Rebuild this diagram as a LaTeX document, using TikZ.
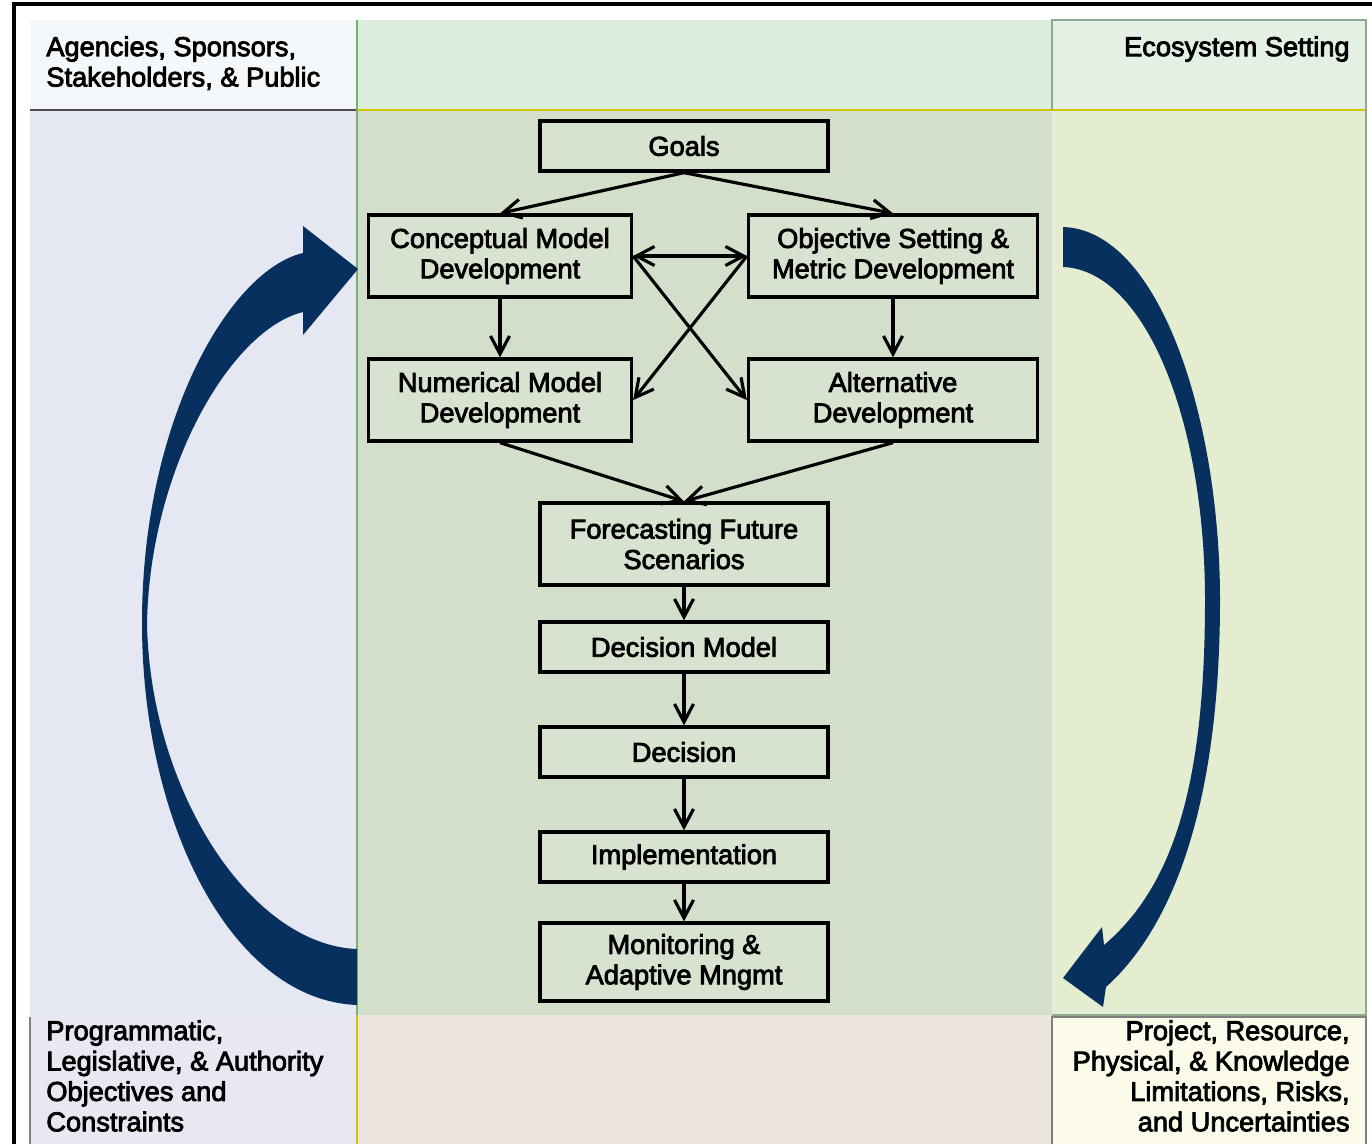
\documentclass[tikz,border=0pt]{standalone}
\usepackage{fontspec}
\setmainfont{Liberation Sans}
\newfontfamily\diagfont{Liberation Sans}[FakeBold=3]
\usetikzlibrary{positioning,arrows.meta}
\definecolor{cellwhite}{HTML}{F4F8FA}
\definecolor{topgreen}{HTML}{DDEDDB}
\definecolor{ecotop}{HTML}{E4F0E4}
\definecolor{leftlav}{HTML}{E5E7F3}
\definecolor{midgreen}{HTML}{D3DFCA}
\definecolor{rightyg}{HTML}{E5EDD0}
\definecolor{botlav}{HTML}{E8E8F3}
\definecolor{botbeige}{HTML}{EEE6DE}
\definecolor{botcream}{HTML}{FCFAE8}
\definecolor{boxfill}{HTML}{D8E2D0}
\definecolor{loopnavy}{HTML}{08305E}
\definecolor{ecoline}{HTML}{8FA88F}

\begin{document}
\begin{tikzpicture}[x=0.02cm, y=-0.02cm,
   stepbox/.style={draw, line width=1.9pt, fill=boxfill, inner sep=0pt,
                   minimum width=5.76cm, minimum height=1cm, align=center,
                   font=\fontsize{15.5}{17.3}\diagfont},
   sidebox/.style={stepbox, minimum width=5.26cm, minimum height=1.64cm},
   tallbox/.style={stepbox, minimum height=1.64cm},
   cornertext/.style={inner sep=0pt, font=\fontsize{15.5}{17.3}\diagfont},
   flow/.style={line width=1.8pt, -{Straight Barb[length=3.6mm,width=3.8mm]}},
   >={Straight Barb[length=3.6mm,width=3.8mm]}]
  \useasboundingbox (0,0) rectangle (1372,1144);
  \fill[white] (0,0) rectangle (1372,1144);
  % background cells
  \fill[cellwhite] (30,20) rectangle (357,110);
  \fill[topgreen] (357,20) rectangle (1052,110);
  \fill[ecotop] (1052,20) rectangle (1366,110);
  \fill[leftlav] (30,110) rectangle (357,1015);
  \fill[midgreen] (357,110) rectangle (1052,1015);
  \fill[rightyg] (1052,110) rectangle (1366,1015);
  \fill[botlav] (30,1015) rectangle (357,1144);
  \fill[botbeige] (357,1015) rectangle (1052,1144);
  \fill[botcream] (1052,1017) rectangle (1366,1144);
  \draw[gray!60!black, line width=0.8pt] (30,110) -- (357,110);
  \draw[yellow!60!olive, line width=0.8pt] (357,110) -- (1366,110);
  \draw[green!45!black!55, line width=1pt] (357,20) -- (357,1015);
  \draw[ecoline, line width=0.8pt] (1052,110) -- (1052,20) -- (1366,20)
    -- (1366,1015) -- (1052,1015);
  \draw[gray, line width=0.8pt] (1052,1144) -- (1052,1017) -- (1366,1017)
    -- (1366,1144);
  \draw[gray, line width=0.8pt] (30,1017) -- (30,1144);
  \draw[yellow!60!olive, line width=0.6pt] (357,1015) -- (357,1144);
  % outer frame
  \draw[line width=1.8pt] (14,1144) -- (14,4) -- (1372,4);

  % big loop arrows
  \fill[loopnavy] (357,1005) .. controls (230,1000) and (142,820) .. (142,623)
    .. controls (142,420) and (230,270) .. (303,253)
    -- (303,226) -- (358,269) -- (303,335) -- (303,312)
    .. controls (230,330) and (150,470) .. (147,623)
    .. controls (150,790) and (250,945) .. (357,949) -- cycle;
  \fill[loopnavy] (1063,227) .. controls (1160,230) and (1220,420) .. (1220,600)
    .. controls (1220,800) and (1175,925) .. (1106,987)
    -- (1103,1007) -- (1063,978) -- (1102,927) -- (1104,945)
    .. controls (1175,885) and (1205,780) .. (1205,600)
    .. controls (1205,420) and (1145,270) .. (1063,267) -- cycle;

  % corner labels
  \node[cornertext, anchor=north west, align=left] (agencies) at (46,36)
    {Agencies, Sponsors,\\Stakeholders, \& Public};
  \node[cornertext, anchor=north east, align=right] (ecosys) at (1350,36)
    {Ecosystem Setting};
  \node[cornertext, anchor=north west, align=left] (program) at (46,1020)
    {Programmatic,\\Legislative, \& Authority\\Objectives and\\Constraints};
  \node[cornertext, anchor=north east, align=right] (limits) at (1350,1020)
    {Project, Resource,\\Physical, \& Knowledge\\Limitations, Risks,\\and Uncertainties};

  % process boxes
  \node[stepbox] (goals) at (684,146) {Goals};
  \node[sidebox] (concept) at (500,256) {Conceptual Model\\Development};
  \node[sidebox, minimum width=5.78cm] (objective) at (893,256)
    {Objective Setting \&\\Metric Development};
  \node[sidebox] (numer) at (500,400) {Numerical Model\\Development};
  \node[sidebox, minimum width=5.78cm] (altdev) at (893,400)
    {Alternative\\Development};
  \node[tallbox] (forecast) at (684,544) {Forecasting Future\\Scenarios};
  \node[stepbox] (decmodel) at (684,647) {Decision Model};
  \node[stepbox] (decision) at (684,752) {Decision};
  \node[stepbox] (implement) at (684,857) {Implementation};
  \node[tallbox, minimum height=1.56cm] (monitor) at (684,962)
    {Monitoring \&\\Adaptive Mngmt};

  % connectors
  \draw[flow] (goals.south) -- (concept.north);
  \draw[flow] (goals.south) -- (objective.north);
  \draw[flow, <->] (concept.east) -- (objective.west);
  \draw[flow] (concept.east) -- (altdev.west);
  \draw[flow] (objective.west) -- (numer.east);
  \draw[flow] (concept) -- (numer);
  \draw[flow] (objective) -- (altdev);
  \draw[flow] (numer.south) -- (forecast.north);
  \draw[flow] (altdev.south) -- (forecast.north);
  \draw[flow] (forecast) -- (decmodel);
  \draw[flow] (decmodel) -- (decision);
  \draw[flow] (decision) -- (implement);
  \draw[flow] (implement) -- (monitor);
\end{tikzpicture}
\end{document}
